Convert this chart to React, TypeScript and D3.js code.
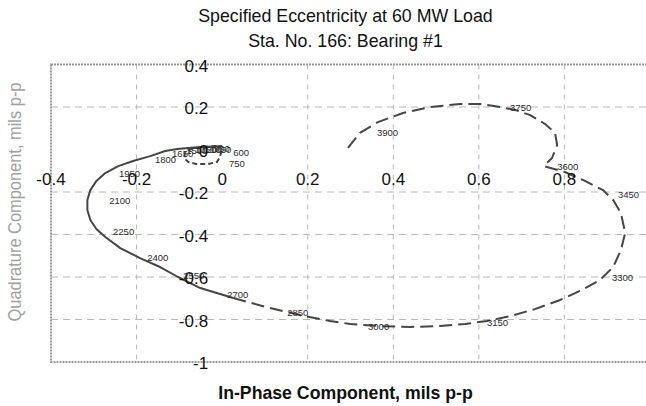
import React, { useEffect, useRef } from 'react';
import * as d3 from 'd3';

// tick labels and grid positions
const xTicks = [-0.4, -0.2, 0, 0.2, 0.4, 0.6, 0.8];
const yTicks = [0.4, 0.2, 0, -0.2, -0.4, -0.6, -0.8, -1];
const xGrid = [-0.2, 0.2, 0.4, 0.6, 0.8];
const yGrid = [0.2, -0.2, -0.4, -0.6, -0.8];

// vibration vector trace (in-phase, quadrature), mils p-p
const inPhase = [
  -0.002, -0.005, -0.012, -0.033, -0.061, -0.079, -0.089, -0.086, -0.072, -0.044,
  -0.019, 0.0, -0.016, -0.051, -0.079, -0.105, -0.133, -0.168, -0.208, -0.243,
  -0.273, -0.294, -0.308, -0.315, -0.315, -0.308, -0.294, -0.273, -0.238, -0.192,
  -0.145, -0.103, -0.051, 0.026, 0.112, 0.182, 0.252, 0.299, 0.369, 0.439,
  0.509, 0.568, 0.619, 0.673, 0.731, 0.79, 0.841, 0.883, 0.914, 0.932,
  0.942, 0.932, 0.914, 0.89, 0.848, 0.801, 0.752, 0.771, 0.783, 0.778,
  0.755, 0.72, 0.685, 0.65, 0.603, 0.556, 0.486, 0.423, 0.364, 0.322, 0.294,
];
const quadrature = [
  -0.007, -0.035, -0.059, -0.068, -0.068, -0.059, -0.04, -0.012, 0.002, 0.012,
  0.016, 0.016, 0.014, 0.012, 0.007, 0.002, -0.007, -0.031, -0.054, -0.078,
  -0.111, -0.148, -0.191, -0.238, -0.285, -0.332, -0.374, -0.412, -0.464, -0.511,
  -0.553, -0.6, -0.652, -0.699, -0.746, -0.779, -0.807, -0.821, -0.831, -0.835,
  -0.831, -0.821, -0.807, -0.784, -0.751, -0.708, -0.661, -0.614, -0.553, -0.473,
  -0.393, -0.299, -0.238, -0.191, -0.148, -0.106, -0.078, -0.04, 0.021, 0.078,
  0.12, 0.162, 0.186, 0.2, 0.214, 0.214, 0.2, 0.172, 0.129, 0.078, 0.007,
];

// speed annotations (rpm) and where their text sits
const rpm = [600, 750, 900, 1050, 1200, 1350, 1500, 1650, 1800, 1950, 2100, 2250,
  2400, 2550, 2700, 2850, 3000, 3150, 3300, 3450, 3600, 3750, 3900];
const rpmX = [0.026, 0.016, -0.019, -0.028, -0.049, -0.063, -0.084, -0.117, -0.157, -0.241, -0.264, -0.255,
  -0.175, -0.091, 0.012, 0.152, 0.341, 0.619, 0.911, 0.925, 0.783, 0.673, 0.362];
const rpmY = [-0.016, -0.068, 0.007, 0.002, 0.002, -0.002, -0.007, -0.021, -0.049, -0.115, -0.242, -0.388,
  -0.506, -0.595, -0.68, -0.765, -0.831, -0.816, -0.6, -0.214, -0.078, 0.2, 0.078];

const App = () => {
  const ref = useRef<SVGSVGElement>(null);

  useEffect(() => {
    const width = 646;
    const height = 406;
    const svg = d3.select(ref.current);
    svg.selectAll('*').remove();

    const x = d3.scaleLinear().domain([-0.4, 1.0]).range([51, 650]);
    const y = d3.scaleLinear().domain([-1, 0.4]).range([362, 64.5]);

    const font = '"Liberation Sans", Arial, sans-serif';

    svg.append('rect').attr('width', width).attr('height', height).attr('fill', '#fff');

    // grid
    svg.append('g').selectAll('line').data(xGrid).enter().append('line')
      .attr('x1', d => x(d)).attr('x2', d => x(d))
      .attr('y1', y(0.4)).attr('y2', y(-1))
      .attr('stroke', '#b8b8b8').attr('stroke-width', 1)
      .attr('stroke-dasharray', '5,5');
    svg.append('g').selectAll('line').data(yGrid).enter().append('line')
      .attr('x1', x(-0.4)).attr('x2', x(1.0))
      .attr('y1', d => y(d)).attr('y2', d => y(d))
      .attr('stroke', '#b8b8b8').attr('stroke-width', 1)
      .attr('stroke-dasharray', '7,5');

    // plot frame
    svg.append('rect')
      .attr('x', x(-0.4)).attr('y', y(0.4))
      .attr('width', x(1.0) - x(-0.4)).attr('height', y(-1) - y(0.4))
      .attr('fill', 'none').attr('stroke', '#999').attr('stroke-width', 2)
      .attr('stroke-dasharray', '2,1');

    // trace
    const pts = inPhase.map((v, i) => [v, quadrature[i]] as [number, number]);
    const line = d3.line<[number, number]>().x(d => x(d[0])).y(d => y(d[1]));
    const segs = [
      { from: 0, to: 12, dash: '5,3' },
      { from: 11, to: 34, dash: null },
      { from: 33, to: pts.length, dash: '13,6' },
    ];
    segs.forEach(s => {
      const p = svg.append('path')
        .datum(pts.slice(s.from, s.to))
        .attr('fill', 'none')
        .attr('stroke', '#454545')
        .attr('stroke-width', 2)
        .attr('stroke-linejoin', 'round')
        .attr('d', line);
      if (s.dash) p.attr('stroke-dasharray', s.dash);
    });

    // rpm labels
    svg.append('g').selectAll('text').data(rpm).enter().append('text')
      .attr('x', (d, i) => x(rpmX[i]))
      .attr('y', (d, i) => y(rpmY[i]) + 3.5)
      .text(d => d)
      .attr('fill', '#2a2a2a')
      .style('font-family', font)
      .style('font-size', '9.5px');

    // tick labels at the axes through the origin
    svg.append('g').selectAll('text').data(xTicks).enter().append('text')
      .attr('x', d => x(d))
      .attr('y', y(0) + 35)
      .attr('text-anchor', 'middle')
      .text(d => d3.format('~g')(d).replace('−', '-'))
      .attr('fill', '#111')
      .style('font-family', font)
      .style('font-size', '17px');
    svg.append('g').selectAll('text').data(yTicks).enter().append('text')
      .attr('x', x(0) - 14)
      .attr('y', d => y(d) + 7)
      .attr('text-anchor', 'end')
      .text(d => d3.format('~g')(d).replace('−', '-'))
      .attr('fill', '#111')
      .style('font-family', font)
      .style('font-size', '17px');

    // titles
    const cx = (x(-0.4) + x(1.0)) / 2 - 5;
    svg.append('text')
      .attr('x', cx).attr('y', 22)
      .attr('text-anchor', 'middle')
      .text('Specified Eccentricity at 60 MW Load')
      .attr('fill', '#111')
      .style('font-family', font)
      .style('font-size', '17.8px');
    svg.append('text')
      .attr('x', cx).attr('y', 47)
      .attr('text-anchor', 'middle')
      .text('Sta. No. 166: Bearing #1')
      .attr('fill', '#111')
      .style('font-family', font)
      .style('font-size', '17.8px');

    svg.append('text')
      .attr('x', cx).attr('y', 399)
      .attr('text-anchor', 'middle')
      .text('In-Phase Component, mils p-p')
      .attr('fill', '#111')
      .style('font-family', font)
      .style('font-size', '17.7px')
      .style('font-weight', 'bold');

    svg.append('text')
      .attr('transform', 'translate(21, 202) rotate(-90)')
      .attr('text-anchor', 'middle')
      .attr('textLength', 239)
      .attr('lengthAdjust', 'spacingAndGlyphs')
      .text('Quadrature Component, mils p-p')
      .attr('fill', '#a0a0a0')
      .style('font-family', '"Liberation Sans Narrow", "Arial Narrow", "Liberation Sans", sans-serif')
      .style('font-size', '18px');
  }, []);

  return (
    <svg ref={ref} width={646} height={406} style={{ position: 'absolute', left: 0, top: 0 }}></svg>
  );
};

export default App;
